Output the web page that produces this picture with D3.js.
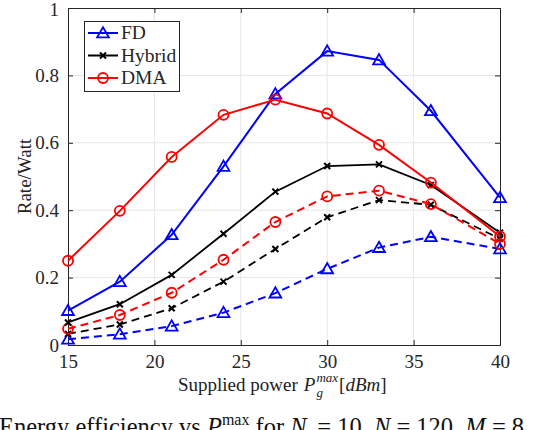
<!DOCTYPE html>
<html>
<head>
<meta charset="utf-8">
<script src="https://cdn.jsdelivr.net/npm/d3@7"></script>
<style>
  body { margin: 0; background: #fff; overflow: hidden; }
  svg { display: block; }
  svg text { font-family: "Liberation Serif", "DejaVu Serif", serif; fill: #222; }
</style>
</head>
<body>
<svg id="chart" width="542" height="430"></svg>
<script>
// supplied power (dBm)
var power = [15, 18, 21, 24, 27, 30, 33, 36, 40];

// solid lines
var fdSolid     = [0.102, 0.188, 0.327, 0.530, 0.745, 0.872, 0.846, 0.695, 0.437];
var hybridSolid = [0.067, 0.121, 0.208, 0.330, 0.455, 0.531, 0.536, 0.475, 0.333];
var dmaSolid    = [0.250, 0.398, 0.558, 0.683, 0.728, 0.687, 0.594, 0.482, 0.322];

// dashed lines
var fdDashed     = [0.017, 0.032, 0.056, 0.096, 0.154, 0.226, 0.289, 0.321, 0.285];
var hybridDashed = [0.033, 0.061, 0.109, 0.188, 0.285, 0.379, 0.430, 0.416, 0.315];
var dmaDashed    = [0.048, 0.089, 0.155, 0.253, 0.365, 0.441, 0.458, 0.418, 0.300];

var xTicks = [15, 20, 25, 30, 35, 40];
var yTicks = [0, 0.2, 0.4, 0.6, 0.8, 1];
var legendNames = ["FD", "Hybrid", "DMA"];

var svg = d3.select("#chart");

// plot box
var pLeft = 68, pRight = 500, pTop = 8, pBottom = 345;

var xScale = d3.scaleLinear().domain([15, 40]).range([pLeft, pRight]);
var yScale = d3.scaleLinear().domain([0, 1]).range([pBottom, pTop]);

// grid
svg.append("g").selectAll("line")
    .data(xTicks.slice(1, -1))
    .enter().append("line")
    .attr("x1", d => xScale(d)).attr("x2", d => xScale(d))
    .attr("y1", pTop).attr("y2", pBottom)
    .attr("stroke", "#e6e6e6").attr("stroke-width", 1);
svg.append("g").selectAll("line")
    .data(yTicks.slice(1, -1))
    .enter().append("line")
    .attr("x1", pLeft).attr("x2", pRight)
    .attr("y1", d => yScale(d)).attr("y2", d => yScale(d))
    .attr("stroke", "#e6e6e6").attr("stroke-width", 1);

// axes (ticks inside, box on)
var xAxis = d3.axisBottom(xScale).tickValues(xTicks).tickSize(-5).tickPadding(10).tickFormat(d3.format("d"));
var yAxis = d3.axisLeft(yScale).tickValues(yTicks).tickSize(-5).tickPadding(9)
    .tickFormat(d => d === 0 || d === 1 ? String(d) : d3.format(".1f")(d));

var gx = svg.append("g").attr("transform", "translate(0," + pBottom + ")").call(xAxis);
var gy = svg.append("g").attr("transform", "translate(" + pLeft + ",0)").call(yAxis);
var gx2 = svg.append("g").attr("transform", "translate(0," + pTop + ")")
    .call(d3.axisTop(xScale).tickValues(xTicks).tickSize(-5).tickFormat(""));
var gy2 = svg.append("g").attr("transform", "translate(" + pRight + ",0)")
    .call(d3.axisRight(yScale).tickValues(yTicks).tickSize(-5).tickFormat(""));

[gx, gy, gx2, gy2].forEach(g => {
    g.attr("font-family", null);
    g.select(".domain").attr("stroke", "#262626").attr("stroke-width", 1);
    g.selectAll(".tick line").attr("stroke", "#262626");
    g.selectAll(".tick text").style("font-size", "19px").style("fill", "#262626");
});
gy.selectAll(".tick text").filter(d => d === 1).attr("dy", "0.4em");

// axis labels
svg.append("text")
    .attr("transform", "translate(31," + ((pTop + pBottom) / 2) + ") rotate(-90)")
    .attr("text-anchor", "middle")
    .style("font-size", "19px")
    .text("Rate/Watt");

// x label: pieces placed one after the other
var xlY = 391, xlX = 178;
function piece(txt, x, y, size, italic) {
    var t = svg.append("text").attr("x", x).attr("y", y)
        .style("font-size", size + "px")
        .style("font-style", italic ? "italic" : "normal")
        .text(txt);
    return t.node().getComputedTextLength();
}
var cx = xlX;
cx += piece("Supplied power", cx, xlY, 19, false) + 6;
cx += piece("P", cx, xlY, 19, true) + 1;
var wMax = piece("max", cx, xlY - 9, 13, true);
piece("g", cx, xlY + 6, 13, true);
cx += wMax + 1;
cx += piece("[", cx, xlY, 19, false);
cx += piece("dBm", cx, xlY, 19, true);
piece("]", cx, xlY, 19, false);

// series
var series = [
    { values: fdSolid, color: "#0000ff", marker: "tri", dash: null },
    { values: hybridSolid, color: "#000000", marker: "x", dash: null },
    { values: dmaSolid, color: "#ff0000", marker: "circle", dash: null },
    { values: fdDashed, color: "#0000ff", marker: "tri", dash: "8,5" },
    { values: hybridDashed, color: "#000000", marker: "x", dash: "8,5" },
    { values: dmaDashed, color: "#ff0000", marker: "circle", dash: "8,5" }
];

var line = d3.line().x(d => xScale(d[0])).y(d => yScale(d[1]));

function drawMarker(g, type, color, x, y) {
    if (type === "tri") {
        g.append("path")
            .attr("d", d3.symbol(d3.symbolTriangle, 60)())
            .attr("transform", "translate(" + x + "," + (y + 1) + ")")
            .attr("fill", "none").attr("stroke", color).attr("stroke-width", 1.8);
    } else if (type === "circle") {
        g.append("circle").attr("cx", x).attr("cy", y).attr("r", 5)
            .attr("fill", "none").attr("stroke", color).attr("stroke-width", 1.8);
    } else {
        g.append("path")
            .attr("d", "M-3,-3L3,3M-3,3L3,-3")
            .attr("transform", "translate(" + x + "," + y + ")")
            .attr("fill", "none").attr("stroke", color).attr("stroke-width", 2);
    }
}

// dashed first, then solid on top
var order = [3, 4, 5, 1, 0, 2];
order.forEach(i => {
    var s = series[i];
    var pts = power.map((p, j) => [p, s.values[j]]);
    var g = svg.append("g");
    g.append("path")
        .attr("d", line(pts))
        .attr("fill", "none")
        .attr("stroke", s.color)
        .attr("stroke-width", s.marker === "x" ? 1.8 : 2)
        .attr("stroke-dasharray", s.dash);
    pts.forEach(p => drawMarker(g, s.marker, s.color, xScale(p[0]), yScale(p[1])));
});

// legend
var lg = svg.append("g");
lg.append("rect").attr("x", 84.5).attr("y", 21.5).attr("width", 95).attr("height", 70)
    .attr("fill", "#fff").attr("stroke", "#262626").attr("stroke-width", 1);
legendNames.forEach((name, i) => {
    var s = series[i];
    var y = 33 + i * 22.5;
    lg.append("line").attr("x1", 88).attr("x2", 118).attr("y1", y).attr("y2", y)
        .attr("stroke", s.color).attr("stroke-width", 2);
    drawMarker(lg, s.marker, s.color, 103, y);
    lg.append("text").attr("x", 121).attr("y", y + 6)
        .style("font-size", "19.5px").style("fill", "#262626").text(name);
});

// caption (cut off at the bottom of the picture)
var cap = svg.append("text").attr("x", -1).attr("y", 435).style("font-size", "24.5px").style("fill", "#111");
cap.append("tspan").text("Energy efficiency vs ");
cap.append("tspan").style("font-style", "italic").text("P");
cap.append("tspan").attr("dy", -10).style("font-size", "16px").text("max");
cap.append("tspan").attr("dy", 10).text(" for ");
cap.append("tspan").style("font-style", "italic").text("N");
cap.append("tspan").attr("dy", 5).style("font-size", "16px").style("font-style", "italic").text("t");
cap.append("tspan").attr("dy", -5).text(" = 10, ");
cap.append("tspan").style("font-style", "italic").text("N");
cap.append("tspan").text(" = 120, ");
cap.append("tspan").style("font-style", "italic").text("M");
cap.append("tspan").text(" = 8");
</script>
</body>
</html>
